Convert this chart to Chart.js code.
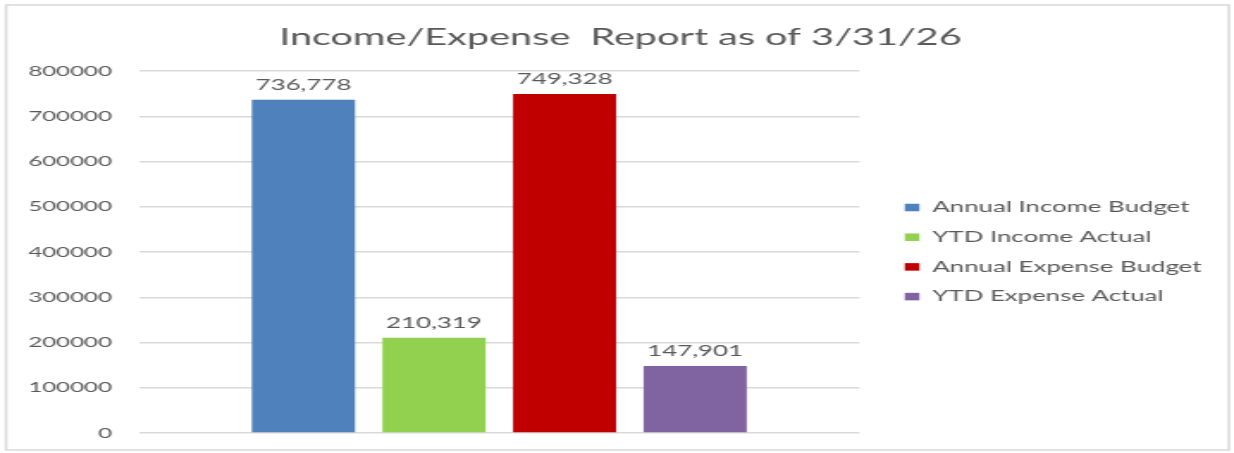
<!DOCTYPE html>
<html>
<head>
<meta charset="utf-8">
<script src="https://cdn.jsdelivr.net/npm/chart.js@4.4.1/dist/chart.umd.min.js"></script>
<style>
  html, body { margin: 0; padding: 0; background: #ffffff; overflow: hidden; }
</style>
</head>
<body>
<canvas id="c" width="717" height="453" style="display:block;width:1234px;height:453px;"></canvas>
<script>
// ---- data ----
const categories = [''];
const seriesNames = ['Annual Income Budget', 'YTD Income Actual', 'Annual Expense Budget', 'YTD Expense Actual'];
const seriesValues = [736778, 210319, 749328, 147901];
const seriesColors = ['#4f81bd', '#92d050', '#c00000', '#8064a2'];
const yTickMin = 0;
const yTickMax = 800000;
const yTickStep = 100000;
const titleText = 'Income/Expense  Report as of 3/31/26';

// ---- styling ----
const FONT = 'Lato, "Liberation Sans", sans-serif';
const TEXT = '#595959';
const LEGEND_GAP = 11.6;

const frame = {
  id: 'frame',
  beforeDraw(chart) {
    const ctx = chart.ctx;
    ctx.save();
    ctx.fillStyle = '#ffffff';
    ctx.fillRect(0, 0, chart.width, chart.height);
    ctx.strokeStyle = '#d9d9d9';
    ctx.lineWidth = 1.5;
    ctx.strokeRect(3.5, 5, 710.5, 445);
    ctx.restore();
  }
};

const layoutTweak = {
  id: 'layoutTweak',
  afterLayout(chart) {
    const lg = chart.legend;
    if (lg) { lg.left += LEGEND_GAP; lg.right += LEGEND_GAP + 40; lg.width = lg.right - lg.left; }
    const tb = chart.titleBlock;
    if (tb) { tb.left = 0; tb.right = 721; tb.width = 721; }
  }
};

const valueLabels = {
  id: 'valueLabels',
  afterDatasetsDraw(chart) {
    const ctx = chart.ctx;
    ctx.save();
    ctx.font = '15px ' + FONT;
    ctx.fillStyle = TEXT;
    ctx.textAlign = 'center';
    ctx.textBaseline = 'middle';
    chart.data.datasets.forEach((ds, i) => {
      const meta = chart.getDatasetMeta(i);
      meta.data.forEach((el, j) => {
        const v = ds.data[j];
        ctx.fillText(v.toLocaleString('en-US'), el.x, el.y - 15);
      });
    });
    ctx.restore();
  }
};

new Chart(document.getElementById('c'), {
  type: 'bar',
  data: {
    labels: categories,
    datasets: seriesNames.map((name, i) => ({
      label: name,
      data: [seriesValues[i]],
      backgroundColor: seriesColors[i],
      borderWidth: 0,
      categoryPercentage: 0.725,
      barPercentage: 0.79
    }))
  },
  options: {
    responsive: false,
    devicePixelRatio: 1,
    animation: false,
    layout: { padding: { left: 0, right: 57.6, top: 0, bottom: 20 } },
    plugins: {
      title: {
        display: true,
        text: titleText,
        color: TEXT,
        font: { family: FONT, size: 23, weight: 'normal' },
        padding: { top: 24, bottom: 19.5 }
      },
      legend: {
        position: 'right',
        align: 'center',
        fullSize: false,
        maxWidth: 160,
        labels: {
          color: TEXT,
          font: { family: FONT, size: 15 },
          boxWidth: 8.5,
          boxHeight: 7.5,
          padding: 14.7
        }
      },
      tooltip: { enabled: false }
    },
    scales: {
      x: { display: false },
      y: {
        min: yTickMin,
        max: yTickMax,
        ticks: {
          stepSize: yTickStep,
          color: TEXT,
          font: { family: FONT, size: 14 },
          padding: 3,
          callback: v => String(v)
        },
        grid: { color: '#d9d9d9', lineWidth: 1.5, drawTicks: true, tickLength: 12.7, tickColor: 'rgba(0,0,0,0)' },
        border: { display: false },
        afterFit(s) { s.width = 80.8; }
      }
    }
  },
  plugins: [frame, layoutTweak, valueLabels]
});
</script>
</body>
</html>
